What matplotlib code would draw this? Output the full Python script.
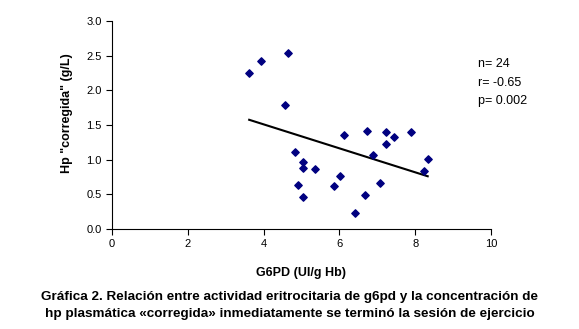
import numpy as np
import matplotlib
matplotlib.use("Agg")
import matplotlib.pyplot as plt

plt.rcParams['font.family'] = ['Liberation Sans', 'DejaVu Sans']

g6pd = [3.62, 3.93, 4.64, 4.57, 4.84, 4.92, 5.04, 5.05, 5.05, 5.36, 5.87, 6.02,
        6.13, 6.42, 6.68, 6.74, 6.90, 7.06, 7.23, 7.24, 7.45, 7.89, 8.24, 8.33]
hp = [2.25, 2.42, 2.54, 1.79, 1.11, 0.64, 0.96, 0.88, 0.46, 0.86, 0.62, 0.76,
      1.36, 0.23, 0.49, 1.42, 1.07, 0.67, 1.40, 1.22, 1.33, 1.40, 0.83, 1.01]
stats = ["n= 24", "r= -0.65", "p= 0.002"]

fig = plt.figure(figsize=(5.79, 3.29), dpi=100)
ax = fig.add_axes([0.1934, 0.304, 0.6546, 0.632])

ax.scatter(g6pd, hp, marker='D', s=14, color='#000080', zorder=3)
m, b = np.polyfit(g6pd, hp, 1)
xs = np.array([min(g6pd), max(g6pd)])
ax.plot(xs, m * xs + b, color='black', lw=1.5)

ax.set_xlim(0, 10)
ax.set_ylim(0, 3.0)
ax.set_xticks(range(0, 11, 2))
ax.set_yticks(np.arange(0, 3.01, 0.5))
ax.yaxis.set_major_formatter(matplotlib.ticker.FormatStrFormatter('%.1f'))
ax.spines['top'].set_visible(False)
ax.spines['right'].set_visible(False)
ax.tick_params(direction='out', length=4, labelsize=8)
ax.set_xlabel("G6PD (UI/g Hb)", fontsize=9, fontweight='bold', labelpad=13)
ax.set_ylabel('Hp "corregida" (g/L)', fontsize=9, fontweight='bold')
ax.yaxis.set_label_coords(-0.103, 0.558)

for i, s in enumerate(stats):
    fig.text(478 / 579, 1 - (64 + i * 18.5) / 329, s, fontsize=9, va='center')

fig.text(0.5, 1 - 297 / 329, "Gráfica 2. Relación entre actividad eritrocitaria de g6pd y la concentración de",
         ha='center', va='center', fontsize=9.7, fontweight='bold')
fig.text(0.5, 1 - 314 / 329, "hp plasmática «corregida» inmediatamente se terminó la sesión de ejercicio",
         ha='center', va='center', fontsize=9.7, fontweight='bold')

fig.savefig("out.png", dpi=100)
